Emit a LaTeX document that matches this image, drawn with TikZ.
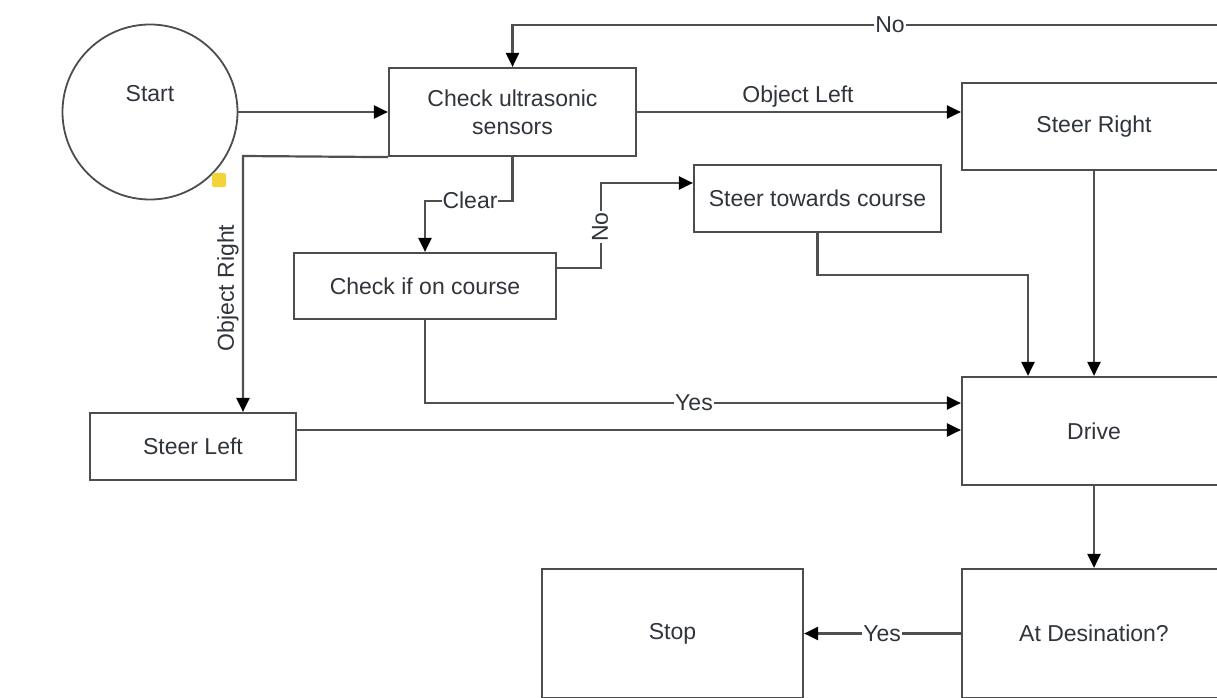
\documentclass[tikz,border=0pt]{standalone}
\usepackage{fontspec}
\setmainfont{Liberation Sans}
\usetikzlibrary{arrows.meta,calc}
\definecolor{linegray}{HTML}{505050}
\definecolor{boxgray}{HTML}{4D4D4D}
\definecolor{txtgray}{HTML}{30353B}
\definecolor{handle}{HTML}{F2D43A}
\tikzset{
  box/.style={draw=boxgray, line width=2.2pt, rectangle, inner sep=0pt, text=txtgray, align=center, font=\fontsize{23}{28}\selectfont},
  conn/.style={draw=linegray, line width=2.2pt},
  arr/.style={conn, -{Triangle[length=14pt,width=13pt,color=black]}},
  lbl/.style={fill=white, inner sep=1pt, text=txtgray, font=\fontsize{23}{28}\selectfont},
  plainlbl/.style={inner sep=1pt, text=txtgray, font=\fontsize{23}{28}\selectfont},
}
\begin{document}
\begin{tikzpicture}[x=1pt,y=-1pt]
\clip (0,0) rectangle (1217,698);
\fill[white] (0,0) rectangle (1217,698);

% nodes
\node[circle, draw=boxgray, line width=1.8pt, minimum size=175pt, inner sep=0pt] (start) at (150,112) {};
\node[plainlbl] (startlbl) at (150,94) {Start};
\node[fill=handle, rounded corners=2pt, minimum size=14pt, inner sep=0pt] (handle) at (219,180) {};

\node[box, minimum width=247pt, minimum height=88pt] (check) at (512.5,112) {Check ultrasonic\\sensors};
\node[box, minimum width=264pt, minimum height=87pt] (steerR) at (1094,126.5) {Steer Right};
\node[box, minimum width=247pt, minimum height=67pt] (stc) at (817.5,198.5) {Steer towards course};
\node[box, minimum width=262pt, minimum height=66pt] (course) at (425,286) {Check if on course};
\node[box, minimum width=206pt, minimum height=67pt] (steerL) at (193,446.5) {Steer Left};
\node[box, minimum width=264pt, minimum height=108pt] (drive) at (1094,431) {Drive};
\node[box, minimum width=264pt, minimum height=129pt] (dest) at (1094,633.5) {At Desination?};
\node[box, minimum width=261pt, minimum height=129pt] (stop) at (672.5,633.5) {Stop};

\coordinate (noR) at (1240,25);
\coordinate (orR) at (243,156);

% connectors
\draw[arr] (start) -- (check);

\draw[arr] (noR) -| (check.north);
\node[lbl] (nolbl) at (890,25) {No};

\draw[arr] (check.east) -- (check.east -| steerR.west);
\node[plainlbl] (ollbl) at (798,97) {Object Left};

\draw[arr] (check.south west) -- (orR) -- (orR |- steerL.north);
\node[plainlbl, rotate=90] (orlbl) at (228,288) {Object Right};

\draw[arr] (check.south) -- ++(0,44) -| (course.north);
\node[lbl] (clearlbl) at (470,200) {Clear};

\draw[arr] ([yshift=18pt]course.east) -- ++(44,0) |- ([yshift=15.5pt]stc.west);
\node[lbl, rotate=90] (no2lbl) at (600,227) {No};

\draw[arr] (stc.south) -- ++(0,42) -| ([xshift=-66pt]drive.north);
\draw[arr] (steerR.south) -- (drive.north);

\draw[arr] (course.south) |- ([yshift=28pt]drive.west);
\node[lbl] (yeslbl) at (694,403) {Yes};

\draw[arr] ([yshift=16.5pt]steerL.east) -- ([yshift=16.5pt]steerL.east -| drive.west);

\draw[arr] (drive.south) -- (dest.north);

\draw[arr] (dest.west) -- (stop.east);
\node[lbl] (yes2lbl) at (882,634) {Yes};
\end{tikzpicture}
\end{document}
